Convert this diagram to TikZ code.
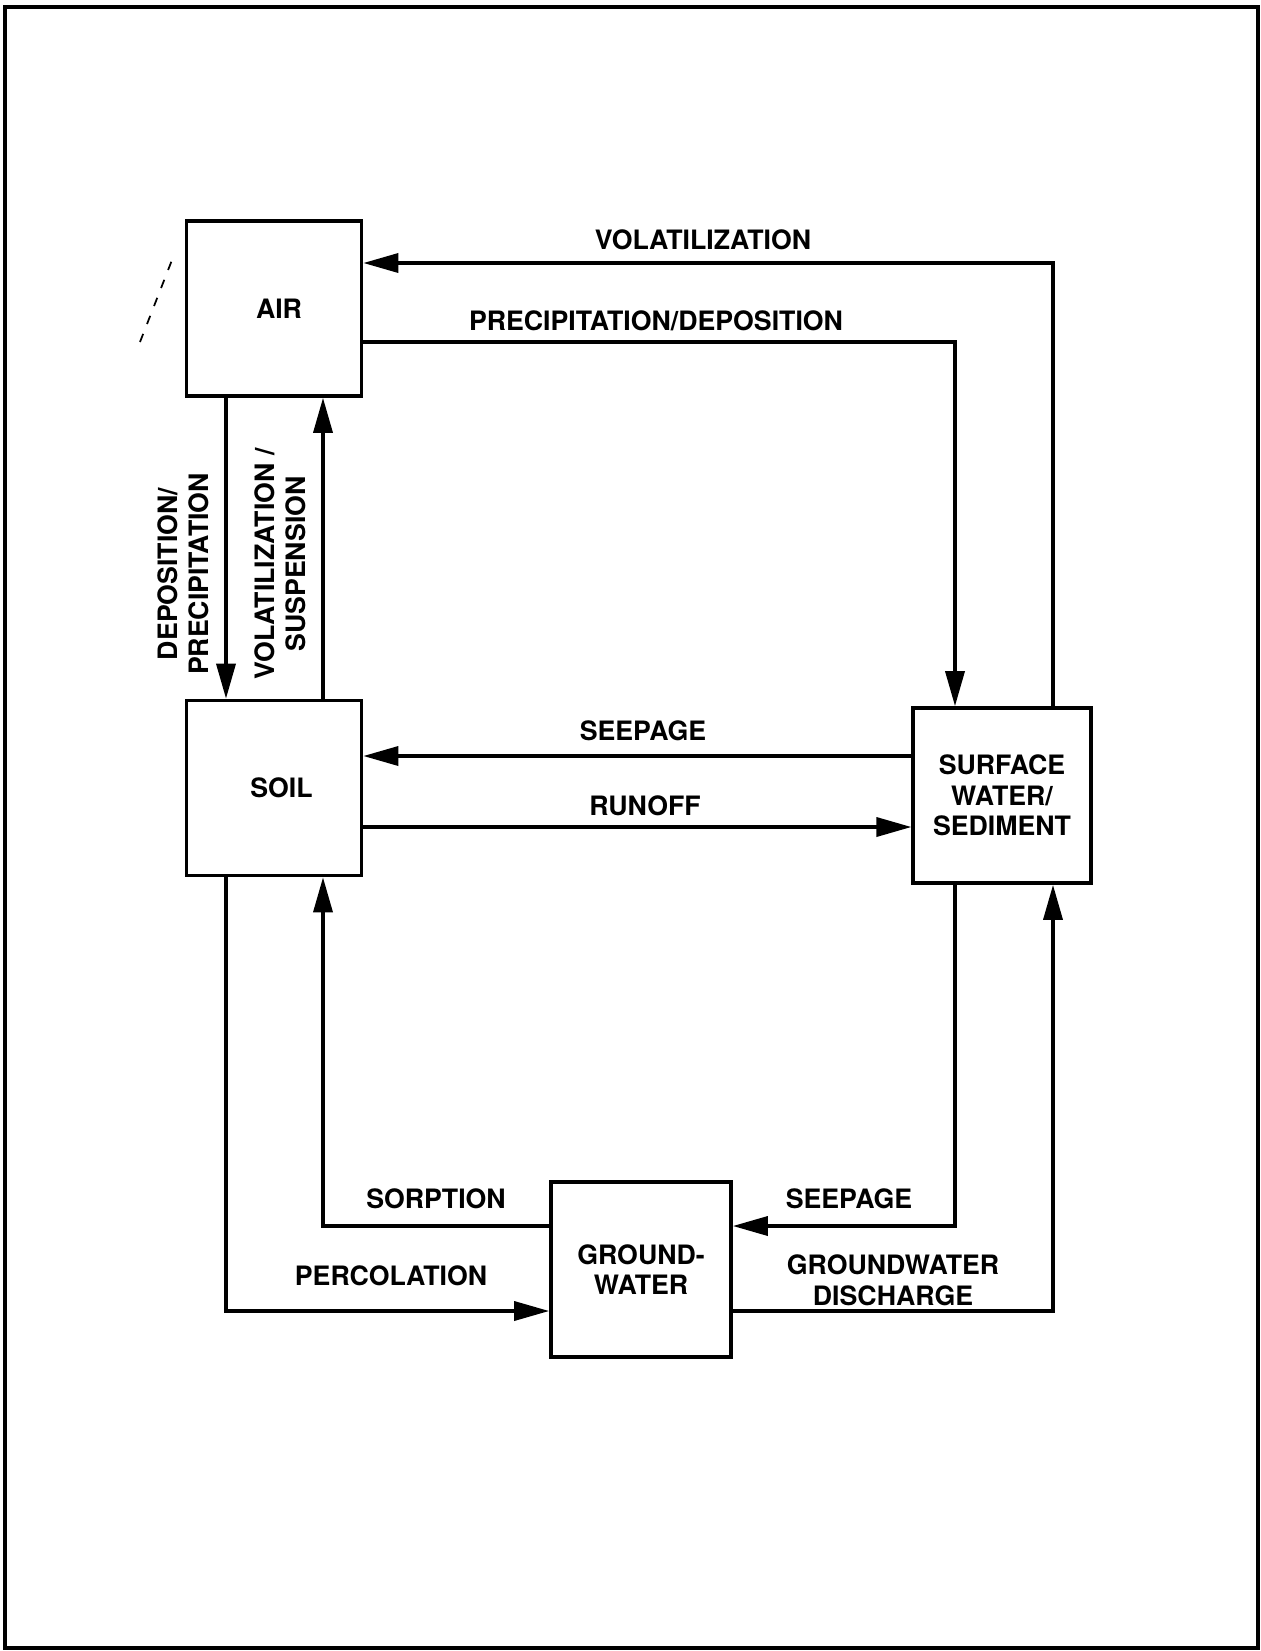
\documentclass[tikz,border=0pt]{standalone}
\usepackage{fontspec}
\setmainfont{TeX Gyre Heros}
\usepackage{tikz}
\usetikzlibrary{positioning,arrows.meta,calc}
\newcommand{\cyclefont}{\bfseries\fontsize{15.2}{17.5}\selectfont}

\tikzset{
  box/.style={draw, line width=2.1pt, minimum width=3.5cm, minimum height=3.5cm,
    align=center, font=\cyclefont},
  flow/.style={line width=2pt, -{Triangle[length=7mm,width=3.8mm]}},
  lbl/.style={font=\cyclefont, align=center, inner sep=0pt},
}

\begin{document}
\begin{tikzpicture}[x=0.02cm,y=-0.02cm]
  \useasboundingbox (0,0) rectangle (1261,1651);
  % outer frame
  \draw[line width=2.4pt] (5,7) rectangle (1258,1648);
  \draw[line width=1pt, dash pattern=on 5pt off 6pt] (140,342) -- (172,260);

  % columns and rows of the connectors
  \coordinate (c1) at (226,0);
  \coordinate (c2) at (323,0);
  \coordinate (c3) at (955,0);
  \coordinate (c4) at (1053,0);
  \coordinate (r1) at (0,263);
  \coordinate (r2) at (0,342);
  \coordinate (r3) at (0,756);
  \coordinate (r4) at (0,827);
  \coordinate (r5) at (0,1226);
  \coordinate (r6) at (0,1311);

  % compartments
  \node[box] (air)  at (274,308.5) {\hspace*{0.2cm}AIR};
  \node[box] (soil) at (274,788) {\hspace*{0.3cm}SOIL};
  \node[box, minimum width=3.55cm] (sw) at (1002,795.5) {SURFACE\\WATER/\\SEDIMENT};
  \node[box, minimum width=3.6cm] (gw) at (641,1269.5) {GROUND-\\WATER};

  % transfers
  \draw[flow] (sw.north -| c4) |- (air.east |- r1);
  \draw[flow] (air.east |- r2) -| (sw.north -| c3);
  \draw[flow] (air.south -| c1) -- (soil.north -| c1);
  \draw[flow] (soil.north -| c2) -- (air.south -| c2);
  \draw[flow] (sw.west |- r3) -- (soil.east |- r3);
  \draw[flow] (soil.east |- r4) -- (sw.west |- r4);
  \draw[flow] (soil.south -| c1) |- (gw.west |- r6);
  \draw[flow] (gw.west |- r5) -| (soil.south -| c2);
  \draw[flow] (sw.south -| c3) |- (gw.east |- r5);
  \draw[flow] (gw.east |- r6) -| (sw.south -| c4);

  % labels
  \node[lbl] (volat)  at (703,240) {VOLATILIZATION};
  \node[lbl] (precip) at (656,321) {PRECIPITATION/DEPOSITION};
  \node[lbl] (seep)   at (643,731) {SEEPAGE};
  \node[lbl] (runoff) at (645,806) {RUNOFF};
  \node[lbl] (sorp)   at (436,1199) {SORPTION};
  \node[lbl] (seepgw) at (849,1199) {SEEPAGE};
  \node[lbl] (perc)   at (391,1276) {PERCOLATION};
  \node[lbl] (disch)  at (893,1280) {GROUNDWATER\\DISCHARGE};
  \node[lbl, rotate=90] (depo) at (183,574) {DEPOSITION/\\PRECIPITATION};
  \node[lbl, rotate=90] (volsus) at (280,564) {VOLATILIZATION /\\SUSPENSION};
\end{tikzpicture}
\end{document}
